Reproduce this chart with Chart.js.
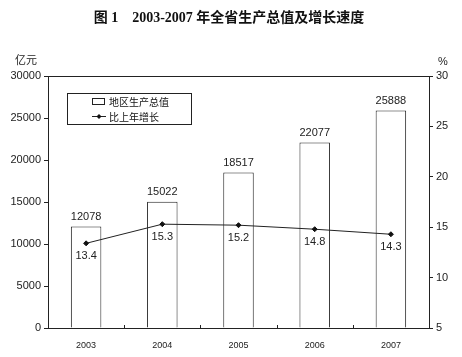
<!DOCTYPE html>
<html><head><meta charset="utf-8">
<script src="https://cdn.jsdelivr.net/npm/chart.js@4/dist/chart.umd.min.js"></script>
<style>html,body{margin:0;padding:0;background:#fff}#wrap{width:462px;height:357px}</style>
</head><body><div id="wrap"><canvas id="c" width="462" height="357"></canvas></div>
<script>
const categories = ['2003','2004','2005','2006','2007'];
const gdpValues = [12078, 15022, 18517, 22077, 25888];
const growthValues = [13.4, 15.3, 15.2, 14.8, 14.3];
const leftTicks = [0,5000,10000,15000,20000,25000,30000];
const rightTicks = [5,10,15,20,25,30];
const titleText = '图 1　2003-2007 年全省生产总值及增长速度';
const leftUnit = '亿元';
const rightUnit = '%';
const seriesNames = ['地区生产总值','比上年增长'];

const NUMF = "'Liberation Sans', Arial, sans-serif";
const CJKF = "'Noto Sans CJK SC', sans-serif";

const decor = {
  id:'decor',
  afterDatasetsDraw(chart){
    const ctx = chart.ctx, a = chart.chartArea;
    ctx.save();
    ctx.strokeStyle = '#222'; ctx.lineWidth = 1;
    ctx.strokeRect(Math.round(a.left)+0.5, Math.round(a.top)+0.5, Math.round(a.right-a.left), Math.round(a.bottom-a.top));
    const step = (a.right-a.left)/categories.length;
    for(let i=1;i<categories.length;i++){
      const px = Math.round(a.left+step*i)+0.5;
      ctx.beginPath(); ctx.moveTo(px, a.bottom); ctx.lineTo(px, a.bottom-3); ctx.stroke();
    }
    ctx.fillStyle = '#222'; ctx.font = '11px '+NUMF; ctx.textAlign='center'; ctx.textBaseline='bottom';
    const mBar = chart.getDatasetMeta(1);
    mBar.data.forEach((b,i)=>{ ctx.fillText(String(gdpValues[i]), b.x, b.y-4); });
    const mLine = chart.getDatasetMeta(0);
    ctx.textBaseline='top';
    mLine.data.forEach((p,i)=>{ ctx.fillText(growthValues[i].toFixed(1), p.x, p.y+7); });
    ctx.font = '11px '+CJKF; ctx.textAlign='center'; ctx.textBaseline='middle';
    ctx.fillText(leftUnit, 26, 60);
    ctx.font = '11px '+NUMF;
    ctx.fillText(rightUnit, 443, 62);
    ctx.font = "bold 14px 'Liberation Serif', 'Noto Sans CJK SC', serif";
    ctx.fillStyle = '#111';
    ctx.fillText(titleText, 229, 18);
    ctx.strokeStyle = '#222';
    ctx.strokeRect(67.5, 93.5, 124, 31);
    ctx.strokeRect(92.5, 98.5, 12, 6);
    ctx.beginPath(); ctx.moveTo(92, 116.5); ctx.lineTo(106, 116.5); ctx.stroke();
    ctx.fillStyle='#111';
    ctx.beginPath(); ctx.moveTo(99,114); ctx.lineTo(101.5,116.5); ctx.lineTo(99,119); ctx.lineTo(96.5,116.5); ctx.closePath(); ctx.fill();
    ctx.font = '10px '+CJKF; ctx.textAlign='left'; ctx.textBaseline='middle';
    ctx.fillText(seriesNames[0], 109, 102);
    ctx.fillText(seriesNames[1], 109, 117);
    ctx.restore();
  }
};

new Chart(document.getElementById('c'), {
  data:{
    labels: categories,
    datasets:[
      {type:'line', label:seriesNames[1], data:growthValues, yAxisID:'y1', borderColor:'#222', borderWidth:1,
       pointStyle:'rectRot', pointRadius:2.5, pointBackgroundColor:'#111', pointBorderColor:'#111', tension:0, order:0},
      {type:'bar', label:seriesNames[0], data:gdpValues, yAxisID:'y', backgroundColor:'#fff', borderColor:'#222', borderWidth:1,
       barPercentage:0.4, categoryPercentage:1.0, order:1}
    ]
  },
  options:{
    responsive:false, animation:false,
    layout:{padding:{top:76,left:0,right:0,bottom:0}},
    plugins:{legend:{display:false}, tooltip:{enabled:false}, title:{display:false}},
    scales:{
      x:{ grid:{display:false}, border:{display:false},
          ticks:{color:'#222', font:{size:9, family:NUMF}, padding:4},
          afterFit(s){ s.height = 29; } },
      y:{ position:'left', min:0, max:30000,
          afterBuildTicks(s){ s.ticks = leftTicks.map(v=>({value:v})); },
          grid:{drawOnChartArea:false, tickLength:4, color:'#222'}, border:{display:false},
          ticks:{color:'#222', font:{size:11, family:NUMF}, padding:3, callback:(v)=>String(v)},
          afterFit(s){ s.width = 48; } },
      y1:{ position:'right', min:5, max:30,
          afterBuildTicks(s){ s.ticks = rightTicks.map(v=>({value:v})); },
          grid:{drawOnChartArea:false, tickLength:4, color:'#222'}, border:{display:false},
          ticks:{color:'#222', font:{size:11, family:NUMF}, padding:3, callback:(v)=>String(v)},
          afterFit(s){ s.width = 33; } }
    }
  },
  plugins:[decor]
});
</script></body></html>
